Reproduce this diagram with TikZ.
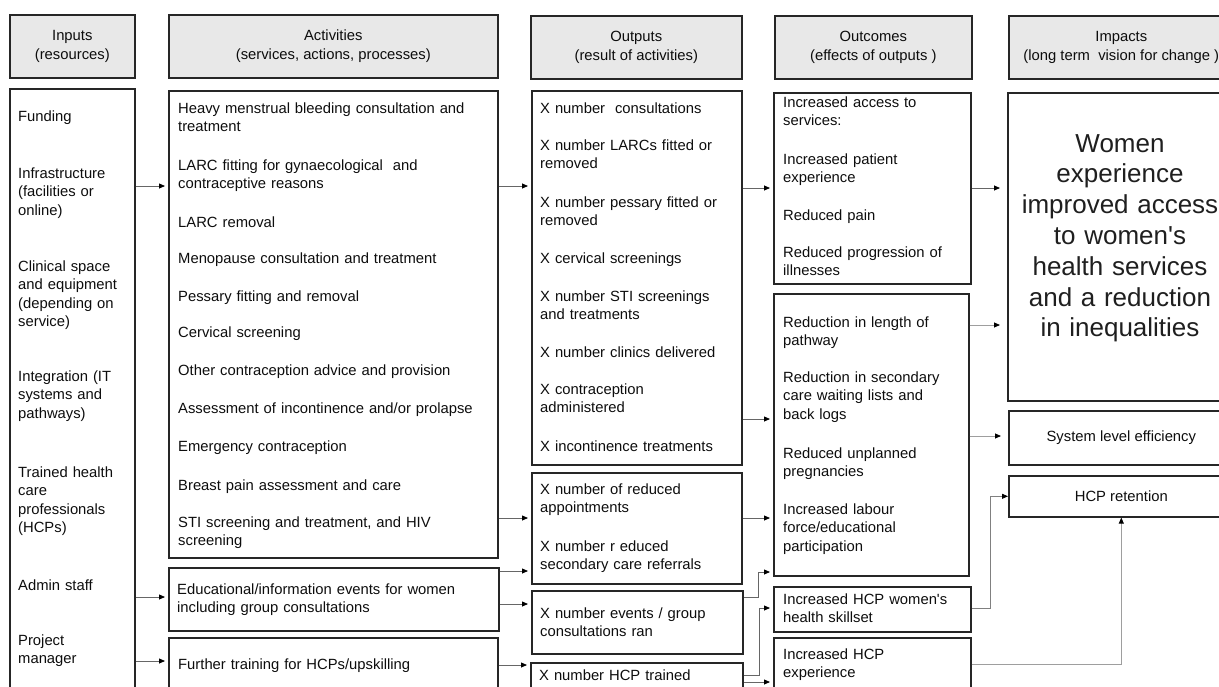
\documentclass[tikz,border=0pt]{standalone}
\usepackage{fontspec}
\setmainfont{Liberation Sans}
\usetikzlibrary{arrows.meta}
\newcommand\bodyfs{\fontsize{14.8}{18.6}\selectfont}
\newcommand\impfs{\fontsize{26}{30.8}\selectfont}
\newcommand\apos{\textquotesingle}
\tikzset{
  box/.style={draw=black!85, line width=1.6pt, anchor=north west, inner sep=0pt, text=black!95, font=\bodyfs},
  hdr/.style={box, fill=black!9, align=center},
  conn/.style={draw=black!60, line width=0.8pt, shorten >=3pt, -{Triangle[length=6pt,width=5pt,color=black]}},
  connl/.style={conn, draw=black!38},
  txt/.style={anchor=base west, inner sep=0pt, align=left, font=\bodyfs, text=black!95},
  tin/.style={txt, text width=115pt},
  tact/.style={txt, text width=325pt},
  tout/.style={txt, text width=205pt},
  toc/.style={txt, text width=190pt},
}
\begin{document}
\begin{tikzpicture}[x=1pt,y=-1pt]
\useasboundingbox (0,0) rectangle (1219,686);
\clip (0,0) rectangle (1219,686);
% headers
\node[hdr, minimum width=125pt, minimum height=63pt] (hin) at (9,14) {Inputs\\(resources)};
\node[hdr, minimum width=329pt, minimum height=63pt] (hact) at (168,14) {Activities\\(services, actions, processes)};
\node[hdr, minimum width=211pt, minimum height=63pt] (hout) at (530,15) {Outputs\\(result of activities)};
\node[hdr, minimum width=197pt, minimum height=63pt] (hoc) at (774,15) {Outcomes\\(effects of outputs )};
\node[hdr, minimum width=225pt, minimum height=63pt] (himp) at (1008,15) {Impacts\\(long term~ vision for change )};
% boxes
\node[box, minimum width=125pt, minimum height=620pt] (in) at (9,88) {};
\node[box, minimum width=329pt, minimum height=467pt] (act1) at (168,90) {};
\node[box, minimum width=330pt, minimum height=63pt] (act2) at (168,567) {};
\node[box, minimum width=329pt, minimum height=70pt] (act3) at (168,637) {};
\node[box, minimum width=210pt, minimum height=374pt] (out1) at (531,90) {};
\node[box, minimum width=210pt, minimum height=111pt] (out2) at (531,472) {};
\node[box, minimum width=211pt, minimum height=63pt] (out3) at (531,590) {};
\node[box, minimum width=212pt, minimum height=50pt] (out4) at (530,662) {};
\node[box, minimum width=197pt, minimum height=191pt] (oc1) at (773,92) {};
\node[box, minimum width=195pt, minimum height=282pt] (oc2) at (773,293) {};
\node[box, minimum width=197pt, minimum height=45pt] (oc3) at (773,586) {};
\node[box, minimum width=197pt, minimum height=70pt] (oc4) at (773,637) {};
\node[box, minimum width=226pt, minimum height=308pt] (imp1) at (1007,92) {};
\node[box, minimum width=225pt, minimum height=54pt] (imp2) at (1008,410) {System level efficiency};
\node[box, minimum width=225pt, minimum height=41pt] (imp3) at (1008,475) {HCP retention};
% inputs text
\node[tin] (i1) at (18,121) {Funding};
\node[tin] (i2) at (18,178) {Infrastructure\\(facilities or\\online)};
\node[tin] (i3) at (18,271) {Clinical space\\and equipment\\(depending on\\service)};
\node[tin] (i4) at (18,381) {Integration (IT\\systems and\\pathways)};
\node[tin] (i5) at (18,477) {Trained health\\care\\professionals\\(HCPs)};
\node[tin] (i6) at (18,590) {Admin staff};
\node[tin] (i7) at (18,645) {Project\\manager};
% activities text
\node[tact] (a1) at (178,113) {Heavy menstrual bleeding consultation and\\treatment};
\node[tact] (a2) at (178,170) {LARC fitting for gynaecological~ and\\contraceptive reasons};
\node[tact] (a3) at (178,227) {LARC removal};
\node[tact] (a4) at (178,263) {Menopause consultation and treatment};
\node[tact] (a5) at (178,301) {Pessary fitting and removal};
\node[tact] (a6) at (178,337) {Cervical screening};
\node[tact] (a7) at (178,375) {Other contraception advice and provision};
\node[tact] (a8) at (178,413) {Assessment of incontinence and/or prolapse};
\node[tact] (a9) at (178,451) {Emergency contraception};
\node[tact] (a10) at (178,490) {Breast pain assessment and care};
\node[tact] (a11) at (178,527) {STI screening and treatment, and HIV\\screening};
\node[tact] (a12) at (177,594) {Educational/information events for women\\including group consultations};
\node[tact] (a13) at (178,669) {Further training for HCPs/upskilling};
% outputs text
\node[tout] (o1) at (540,113) {X number~ consultations};
\node[tout] (o2) at (540,150) {X number LARCs fitted or\\removed};
\node[tout] (o3) at (540,207) {X number pessary fitted or\\removed};
\node[tout] (o4) at (540,263) {X cervical screenings};
\node[tout] (o5) at (540,301) {X number STI screenings\\and treatments};
\node[tout] (o6) at (540,357) {X number clinics delivered};
\node[tout] (o7) at (540,394) {X contraception\\administered};
\node[tout] (o8) at (540,451) {X incontinence treatments};
\node[tout] (o9) at (540,494) {X number of reduced\\appointments};
\node[tout] (o10) at (540,551) {X number r educed\\secondary care referrals};
\node[tout] (o11) at (540,618) {X number events / group\\consultations ran};
\node[tout] (o12) at (539,680) {X number HCP trained};
% outcomes text
\node[toc] (c1) at (783,107) {Increased access to\\services:};
\node[toc] (c2) at (783,164) {Increased patient\\experience};
\node[toc] (c3) at (783,220) {Reduced pain};
\node[toc] (c4) at (783,257) {Reduced progression of\\illnesses};
\node[toc] (c5) at (783,327) {Reduction in length of\\pathway};
\node[toc] (c6) at (783,382) {Reduction in secondary\\care waiting lists and\\back logs};
\node[toc] (c7) at (783,458) {Reduced unplanned\\pregnancies};
\node[toc] (c8) at (783,514) {Increased labour\\force/educational\\participation};
\node[toc] (c9) at (783,604) {Increased HCP women\apos s\\health skillset};
\node[toc] (c10) at (783,659) {Increased HCP\\experience};
% impact text
\node[anchor=base, inner sep=0pt, text width=240pt, align=center, font=\impfs, text=black!88] (w) at (1120,152)
  {Women\\experience\\improved access\\to women\apos s\\health services\\and a reduction\\in inequalities};
% connectors
\draw[conn] (in.east |- 0,186) -- (act1.west |- 0,186);
\draw[conn] (in.east |- 0,597) -- (act2.west |- 0,597);
\draw[conn] (in.east |- 0,661) -- (act3.west |- 0,661);
\draw[conn] (act1.east |- 0,186) -- (out1.west |- 0,186);
\draw[conn] (act1.east |- 0,518) -- (out2.west |- 0,518);
\draw[conn] (act2.east |- 0,571) -- (out2.west |- 0,571);
\draw[conn] (act2.east |- 0,604) -- (out3.west |- 0,604);
\draw[conn] (act3.east |- 0,665) -- (out4.west |- 0,665);
\draw[conn] (out1.east |- 0,188) -- (oc1.west |- 0,188);
\draw[conn] (out1.east |- 0,419) -- (oc2.west |- 0,419);
\draw[conn] (out2.east |- 0,518) -- (oc2.west |- 0,518);
\draw[conn] (out3.east |- 0,597) -- ++(15,0) |- (oc2.west |- 0,572);
\draw[conn] (out4.east |- 0,675) -- ++(16,0) |- (oc3.west |- 0,608);
\draw[conn] (out4.east |- 0,682) -- (oc4.west |- 0,682);
\draw[conn, shorten >=7pt] (oc1.east |- 0,188) -- (imp1.west |- 0,188);
\draw[connl, shorten >=7pt] (oc2.east |- 0,325) -- (imp1.west |- 0,325);
\draw[connl, shorten >=7pt] (oc2.east |- 0,436) -- (imp2.west |- 0,436);
\draw[connl, draw=black!50, shorten >=0pt] (oc3.east |- 0,608) -- ++(19,0) |- (imp3.west);
\draw[connl, shorten >=0pt] (oc4.east |- 0,664) -| (imp3.south);
\end{tikzpicture}
\end{document}
